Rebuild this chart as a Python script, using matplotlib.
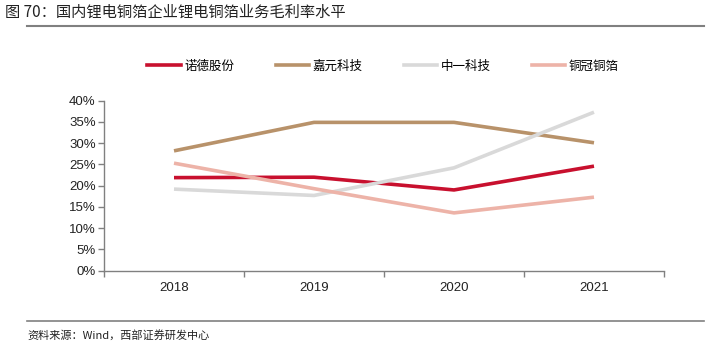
import matplotlib
matplotlib.use("Agg")
from matplotlib import pyplot as plt
from matplotlib.lines import Line2D
from matplotlib.ticker import FuncFormatter

plt.rcParams['font.family'] = ['Noto Sans CJK SC', 'DejaVu Sans']

years = ['2018', '2019', '2020', '2021']
nuode = [21.9, 22.0, 19.0, 24.6]
jiayuan = [28.2, 34.9, 34.9, 30.1]
zhongyi = [19.2, 17.7, 24.2, 37.3]
tongguan = [25.3, 19.3, 13.6, 17.3]

names = ['诺德股份', '嘉元科技', '中一科技', '铜冠铜箔']
colors = ['#C8102E', '#B8926A', '#D9D9D9', '#EDB3A8']
series = [nuode, jiayuan, zhongyi, tongguan]

W, H = 721, 353
fig = plt.figure(figsize=(W / 100, H / 100), dpi=100)
ax = fig.add_axes([104 / W, 1 - 270.7 / H, 560 / W, 170 / H])

x = range(len(years))
for vals, c, n in zip(series, colors, names):
    ax.plot(x, vals, color=c, lw=2.6, label=n, solid_capstyle='butt')

ax.set_xlim(-0.5, 3.5)
ax.set_ylim(0, 40)
ax.set_yticks(range(0, 41, 5))
ax.yaxis.set_major_formatter(FuncFormatter(lambda v, p: f'{v:.0f}%'))
ax.set_xticks([i + 0.5 for i in range(-1, 4)], minor=False)
ax.set_xticklabels([])
ax.set_xticks(list(x), minor=True)
ax.set_xticklabels(years, minor=True)
ax.tick_params(axis='x', which='major', length=4, color='#808080', width=1)
ax.tick_params(axis='x', which='minor', length=0, pad=8, labelsize=9.5)
ax.tick_params(axis='y', length=4, color='#808080', width=1, labelsize=9.5, pad=2)
for lab in ax.get_xticklabels(minor=True) + ax.get_yticklabels():
    lab.set_family('Liberation Sans')
    lab.set_color('#222222')
for s in ['top', 'right']:
    ax.spines[s].set_visible(False)
for s in ['left', 'bottom']:
    ax.spines[s].set_color('#808080')
    ax.spines[s].set_linewidth(1)

handles = [Line2D([0], [0], color=c, lw=2.6) for c in colors]
fig.legend(handles, names, loc='center', bbox_to_anchor=(383 / W, 1 - 66 / H),
           ncol=4, frameon=False, fontsize=9, handlelength=2.65,
           columnspacing=3.3, handletextpad=0.3)

fig.text(5 / W, 1 - 12 / H, '图 70：国内锂电铜箔企业锂电铜箔业务毛利率水平',
         fontsize=11, va='center', ha='left', color='#222222')
fig.add_artist(Line2D([27 / W, 704 / W], [1 - 25.5 / H, 1 - 25.5 / H],
                      color='#808080', lw=1.5))
fig.add_artist(Line2D([27 / W, 704 / W], [1 - 320.5 / H, 1 - 320.5 / H],
                      color='#808080', lw=1.2))
fig.text(27 / W, 1 - 335 / H, '资料来源：Wind，西部证券研发中心',
         fontsize=8, va='center', ha='left', color='#222222')

fig.savefig('out.png', dpi=100)
